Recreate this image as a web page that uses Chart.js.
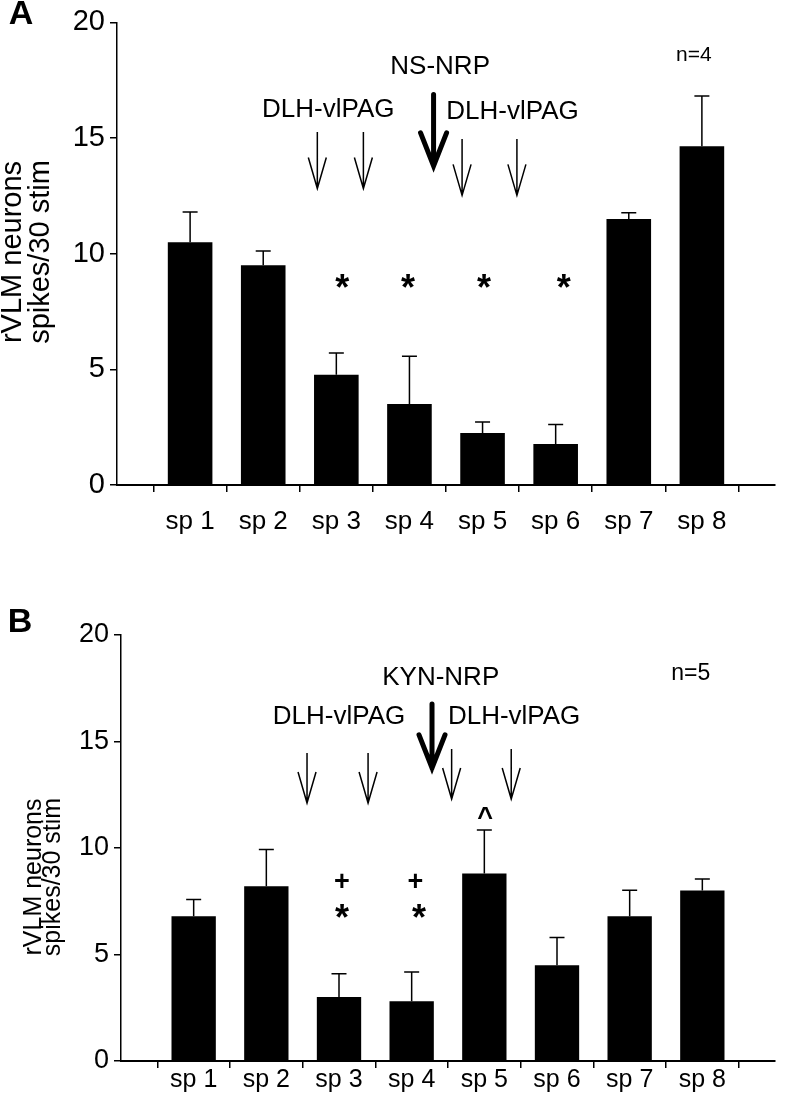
<!DOCTYPE html>
<html>
<head>
<meta charset="utf-8">
<title>rVLM neurons</title>
<script src="https://cdn.jsdelivr.net/npm/chart.js@4.4.1/dist/chart.umd.min.js"></script>
<style>
    body { margin: 0; background: #fff; }
    #wrap { position: relative; width: 789px; height: 1094px; }
    .panel { position: absolute; left: 0; }
</style>
</head>
<body>
<div id="wrap">
    <div class="panel" style="top:0"><canvas id="chart_a" width="789" height="545"></canvas></div>
    <div class="panel" style="top:545px"><canvas id="chart_b" width="789" height="549"></canvas></div>
</div>
<script>

// categories + tick labels
let categories = ['sp 1', 'sp 2', 'sp 3', 'sp 4', 'sp 5', 'sp 6', 'sp 7', 'sp 8'];
let y_ticks = [0, 5, 10, 15, 20];
let y_title = ['rVLM neurons', 'spikes/30 stim'];

// panel A (NS-NRP), mean and SEM
let values_a = [10.5, 9.5, 4.77, 3.5, 2.25, 1.77, 11.5, 14.65];
let errors_a = [1.3, 0.62, 0.94, 2.07, 0.47, 0.85, 0.27, 2.17];

// panel B (KYN-NRP), mean and SEM
let values_b = [6.8, 8.2, 3.0, 2.8, 8.8, 4.5, 6.8, 8.0];
let errors_b = [0.78, 1.73, 1.1, 1.38, 2.05, 1.3, 1.22, 0.55];

let font_family = "'Liberation Sans', Arial, sans-serif";


// annotations, given in axis units (x = category index, sp 1 = 1)
let notes_a = {
    panel: 'A',
    texts: [
        { text: 'DLH-vlPAG', x: 2.89, y: 16.2, size: 26 },
        { text: 'NS-NRP', x: 4.42, y: 18.1, size: 26 },
        { text: 'DLH-vlPAG', x: 5.41, y: 16.15, size: 26 },
        { text: 'n=4', x: 7.89, y: 18.6, size: 21 }
    ],
    arrows: [
        { x: 2.74, y1: 15.26, y2: 12.82, thick: false },
        { x: 3.37, y1: 15.26, y2: 12.82, thick: false },
        { x: 4.33, y1: 16.88, y2: 13.8, thick: true },
        { x: 4.72, y1: 14.96, y2: 12.52, thick: false },
        { x: 5.47, y1: 14.96, y2: 12.52, thick: false }
    ],
    marks: [
        { text: '*', x: 3.08, y: 8.9 },
        { text: '*', x: 3.98, y: 8.9 },
        { text: '*', x: 5.02, y: 8.9 },
        { text: '*', x: 6.11, y: 8.9 }
    ],
    label_x: 21,
    label_y: 15,
    title_y: 252,
    title_x: [13, 41],
    title_size: 29
};

let notes_b = {
    panel: 'B',
    texts: [
        { text: 'KYN-NRP', x: 4.40, y: 17.98, size: 26 },
        { text: 'DLH-vlPAG', x: 3.0, y: 16.15, size: 26 },
        { text: 'DLH-vlPAG', x: 5.41, y: 16.15, size: 26 },
        { text: 'n=5', x: 7.84, y: 18.2, size: 23 }
    ],
    arrows: [
        { x: 2.56, y1: 14.46, y2: 12.11, thick: false },
        { x: 3.40, y1: 14.46, y2: 12.11, thick: false },
        { x: 4.28, y1: 16.76, y2: 13.76, thick: true },
        { x: 4.55, y1: 14.65, y2: 12.3, thick: false },
        { x: 5.37, y1: 14.65, y2: 12.3, thick: false }
    ],
    marks: [
        { text: '+', x: 3.04, y: 8.46 },
        { text: '+', x: 4.05, y: 8.46 },
        { text: '*', x: 3.04, y: 7.13 },
        { text: '*', x: 4.10, y: 7.13 },
        { text: '^', x: 5.01, y: 11.7 }
    ],
    label_x: 20,
    label_y: 78,
    title_y: 332,
    title_x: [34, 53],
    title_size: 25
};


// error bars (upper half only) drawn from the scales
const errorBarPlugin = {
    id: 'errorBars',
    afterDatasetsDraw(chart) {
        const ctx = chart.ctx;
        const xs = chart.scales.x;
        const ys = chart.scales.y;
        const vals = chart.options.plugins.errorBars.values;
        const errs = chart.options.plugins.errorBars.errors;
        ctx.save();
        ctx.strokeStyle = '#000';
        ctx.lineWidth = 1.5;
        for (let i = 0; i < vals.length; i++) {
            let x = xs.getPixelForValue(i + 1);
            let y0 = ys.getPixelForValue(vals[i]);
            let y1 = ys.getPixelForValue(vals[i] + errs[i]);
            ctx.beginPath();
            ctx.moveTo(x, y0);
            ctx.lineTo(x, y1);
            ctx.moveTo(x - 7.5, y1);
            ctx.lineTo(x + 7.5, y1);
            ctx.stroke();
        }
        ctx.restore();
    }
};


// arrows, text notes, significance marks, panel letter, y title
const notesPlugin = {
    id: 'notes',
    afterDraw(chart) {
        const ctx = chart.ctx;
        const xs = chart.scales.x;
        const ys = chart.scales.y;
        const n = chart.options.plugins.notes.data;
        // category scale only maps whole indices, so interpolate
        const px = (v) => {
            let a = xs.getPixelForValue(0);
            let b = xs.getPixelForValue(1);
            return a + (b - a) * v;
        };
        ctx.save();
        ctx.fillStyle = '#000';
        ctx.strokeStyle = '#000';

        ctx.textAlign = 'center';
        ctx.textBaseline = 'middle';
        n.texts.forEach(t => {
            ctx.font = t.size + 'px ' + font_family;
            ctx.fillText(t.text, px(t.x), ys.getPixelForValue(t.y));
        });

        n.arrows.forEach(a => {
            let x = px(a.x);
            let top = ys.getPixelForValue(a.y1);
            let tip = ys.getPixelForValue(a.y2);
            let headLen = a.thick ? 33 : 31;
            let headW = a.thick ? 13 : 9;
            ctx.lineWidth = a.thick ? 5 : 1.5;
            ctx.lineCap = a.thick ? 'round' : 'butt';
            ctx.beginPath();
            ctx.moveTo(x, top);
            ctx.lineTo(x, tip);
            ctx.moveTo(x - headW, tip - headLen);
            ctx.lineTo(x, tip);
            ctx.lineTo(x + headW, tip - headLen);
            ctx.stroke();
        });

        // glyph centre offset above the baseline
        const lift = { '*': 0.57, '+': 0.35, '^': 0.52 };
        const gsize = { '*': 36, '+': 27, '^': 27 };
        ctx.textBaseline = 'alphabetic';
        n.marks.forEach(m => {
            let s = gsize[m.text];
            ctx.font = 'bold ' + s + 'px ' + font_family;
            ctx.fillText(m.text, px(m.x), ys.getPixelForValue(m.y) + lift[m.text] * s);
        });

        ctx.textBaseline = 'middle';
        ctx.font = 'bold 34px ' + font_family;
        ctx.fillText(n.panel, n.label_x, n.label_y);

        ctx.font = n.title_size + 'px ' + font_family;
        y_title.forEach((line, k) => {
            ctx.save();
            ctx.translate(n.title_x[k], n.title_y);
            ctx.rotate(-Math.PI / 2);
            ctx.fillText(line, 0, 0);
            ctx.restore();
        });
        ctx.restore();
    }
};


function displayBarChart(canvas_id, values, errors, notes, box) {

    let ctx = document.getElementById(canvas_id);
    let labels = [''].concat(categories, ['']);
    let data = [null].concat(values, [null]);

    return new Chart(ctx, {
        type: 'bar',
        data: {
            labels: labels,
            datasets: [
                {
                    data: data,
                    backgroundColor: '#000',
                    borderWidth: 0,
                    barPercentage: 0.61,
                    categoryPercentage: 1
                }
            ]
        },
        options: {
            responsive: false,
            animation: false,
            layout: {
                padding: { top: box.top, right: box.right, left: 0, bottom: 0 }
            },
            scales: {
                x: {
                    offset: false,
                    afterFit: function(scale) { scale.height = box.xHeight; },
                    grid: {
                        drawOnChartArea: false,
                        drawTicks: true,
                        tickLength: 7,
                        color: '#000',
                        lineWidth: 1.5
                    },
                    border: { color: '#000', width: 2 },
                    ticks: {
                        autoSkip: false,
                        maxRotation: 0,
                        color: '#000',
                        padding: box.labelPad,
                        font: { family: font_family, size: box.labelSize }
                    }
                },
                y: {
                    min: 0,
                    max: 20,
                    afterFit: function(scale) { scale.width = box.left; },
                    afterBuildTicks: function(scale) {
                        scale.ticks = y_ticks.map(v => ({ value: v }));
                    },
                    grid: {
                        drawOnChartArea: false,
                        drawTicks: true,
                        tickLength: 7,
                        color: '#000',
                        lineWidth: 1.5
                    },
                    border: { color: '#000', width: 1.5 },
                    ticks: {
                        color: '#000',
                        padding: 5,
                        font: { family: font_family, size: box.tickSize }
                    }
                }
            },
            plugins: {
                legend: { display: false },
                tooltip: { enabled: false },
                errorBars: { values: values, errors: errors },
                notes: { data: notes }
            }
        },
        plugins: [errorBarPlugin, notesPlugin]
    });
}

displayBarChart('chart_a', values_a, errors_a, notes_a,
    { top: 17, right: 2, left: 117, xHeight: 60, labelPad: 14, labelSize: 26, tickSize: 29 });
displayBarChart('chart_b', values_b, errors_b, notes_b,
    { top: 90, right: 14, left: 121, xHeight: 33, labelPad: -3, labelSize: 25, tickSize: 27 });

</script>
</body>
</html>
